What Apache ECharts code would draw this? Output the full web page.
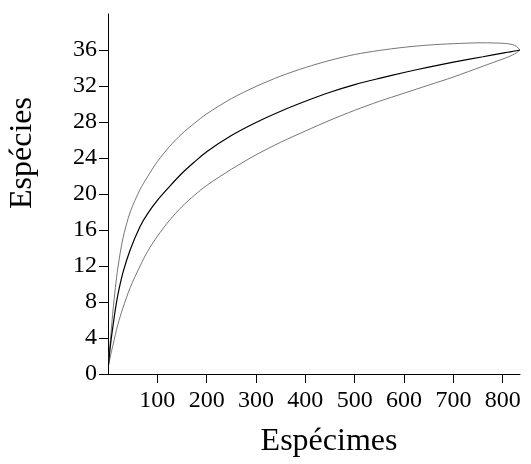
<!DOCTYPE html>
<html>
<head>
<meta charset="utf-8">
<script src="https://cdn.jsdelivr.net/npm/echarts@6/dist/echarts.min.js"></script>
<style>html,body{margin:0;padding:0;background:#fff}#c{width:531px;height:464px}</style>
</head>
<body>
<div id="c"></div>
<script>
const specimens = [1, 2, 3, 5, 7, 10, 15, 20, 30, 45, 65, 80, 100, 125, 150, 175, 200, 250, 300, 350, 400, 450, 500, 550, 600, 650, 700, 760, 800, 810, 820, 828, 835];
const observed  = [1, 1.6, 2.2, 3.2, 4.1, 5.3, 7.2, 8.8, 11.2, 13.8, 16.4, 17.8, 19.3, 20.85, 22.3, 23.55, 24.7, 26.5, 27.95, 29.2, 30.3, 31.3, 32.15, 32.85, 33.5, 34.1, 34.65, 35.25, 35.65, 35.75, 35.84, 35.92, 36];
const upperCI   = [1, 1.8, 2.6, 3.8, 5.1, 7, 9.6, 11.8, 15, 18, 20.5, 21.9, 23.6, 25.3, 26.7, 27.85, 28.9, 30.6, 31.95, 33.1, 34.05, 34.85, 35.5, 35.95, 36.3, 36.55, 36.7, 36.8, 36.75, 36.7, 36.6, 36.4, 36];
const lowerCI   = [1, 1.25, 1.5, 2, 2.5, 3.2, 4.4, 5.5, 7.3, 9.6, 12, 13.6, 15.3, 17.1, 18.6, 19.85, 20.95, 22.75, 24.35, 25.75, 27, 28.2, 29.3, 30.3, 31.2, 32.1, 33, 34.2, 35, 35.2, 35.45, 35.7, 36];
const xTicks = [100, 200, 300, 400, 500, 600, 700, 800];
const yTicks = [0, 4, 8, 12, 16, 20, 24, 28, 32, 36];
const xTitle = 'Espécimes';
const yTitle = 'Espécies';

const pairs = ys => specimens.map((x, i) => [x, ys[i]]);
const font = '"Liberation Serif", "Times New Roman", serif';

const chart = echarts.init(document.getElementById('c'), null, {renderer: 'canvas'});
const lineSeries = (ys, color, width) => ({
  type: 'line', data: pairs(ys), showSymbol: false, smooth: 0.3,
  lineStyle: {color: color, width: width}
});
chart.setOption({
  animation: false,
  backgroundColor: '#fff',
  grid: {left: 108, top: 14, width: 412, height: 360},
  xAxis: {
    type: 'value', min: 0, max: 835,
    splitLine: {show: false},
    axisLine: {show: true, lineStyle: {color: '#000', width: 1}},
    axisTick: {show: true, length: 9, customValues: xTicks, lineStyle: {color: '#000'}},
    axisLabel: {customValues: xTicks, margin: 15, color: '#000', fontFamily: font, fontSize: 24}
  },
  yAxis: {
    type: 'value', min: 0, max: 40,
    splitLine: {show: false},
    axisLine: {show: true, lineStyle: {color: '#000', width: 1}},
    axisTick: {show: true, length: 9, customValues: yTicks, lineStyle: {color: '#000'}},
    axisLabel: {customValues: yTicks, margin: 11, color: '#000', fontFamily: font, fontSize: 24}
  },
  graphic: [
    {type: 'text', x: 329, y: 442, style: {text: xTitle, font: '32px ' + font, fill: '#000', textAlign: 'center', textVerticalAlign: 'middle'}},
    {type: 'text', x: 23, y: 153, rotation: Math.PI / 2, style: {text: yTitle, font: '32px ' + font, fill: '#000', textAlign: 'center', textVerticalAlign: 'middle'}}
  ],
  series: [
    lineSeries(upperCI, '#666', 0.9),
    lineSeries(lowerCI, '#666', 0.9),
    lineSeries(observed, '#000', 1.2)
  ]
});
</script>
</body>
</html>
